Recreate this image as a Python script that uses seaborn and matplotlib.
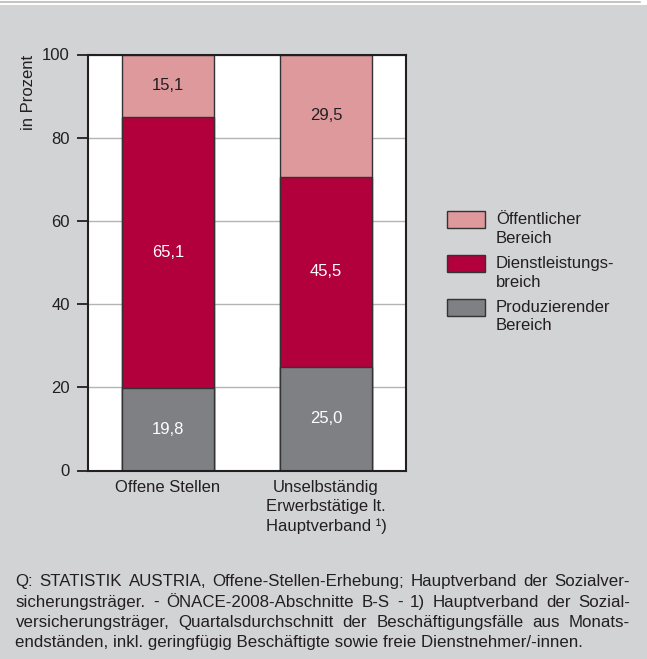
import numpy as np
import pandas as pd
import matplotlib
matplotlib.use("Agg")
import matplotlib.pyplot as plt
import seaborn as sns
from matplotlib.patches import Rectangle
from matplotlib.lines import Line2D

# --- data (Anteile in Prozent)
categories = ["Offene Stellen", "Unselbständig\nErwerbstätige lt.\nHauptverband ¹)"]
produzierend = [19.8, 25.0]
dienstleistung = [65.1, 45.5]
oeffentlich = [15.1, 29.5]
series_names = ["Öffentlicher\nBereich", "Dienstleistungs-\nbreich", "Produzierender\nBereich"]
y_ticks = [0, 20, 40, 60, 80, 100]
footnote_lines = [
    "Q: STATISTIK AUSTRIA, Offene-Stellen-Erhebung; Hauptverband der Sozialver-",
    "sicherungsträger. - ÖNACE-2008-Abschnitte B-S - 1) Hauptverband der Sozial-",
    "versicherungsträger, Quartalsdurchschnitt der Beschäftigungsfälle aus Monats-",
    "endständen, inkl. geringfügig Beschäftigte sowie freie Dienstnehmer/-innen.",
]

col_oef = "#dd999c"
col_dl = "#b1003c"
col_prod = "#7f8084"
bg = "#d2d3d5"
dark = "#231f20"

sns.set_theme(style="white")
plt.rcParams["font.family"] = ["Liberation Sans", "DejaVu Sans"]

W, H = 647, 659
FS = 12


def px(x, y):
    # pixel position (from top-left) -> figure fraction
    return x / W, 1 - y / H


df = pd.DataFrame({
    "cat": categories,
    "prod": produzierend,
    "dl": dienstleistung,
    "oef": oeffentlich,
})
df["cum_prod"] = df["prod"]
df["cum_dl"] = df["prod"] + df["dl"]
df["cum_oef"] = df["cum_dl"] + df["oef"]

fig = plt.figure(figsize=(W / 100, H / 100), dpi=100)
fig.patch.set_facecolor(bg)

# white strip at the very top
fig.add_artist(Rectangle((0, 1 - 5 / H), 1, 5 / H, transform=fig.transFigure,
                         facecolor="white", edgecolor="none"))
fig.add_artist(Line2D([0, 640 / W], [1 - 1.5 / H] * 2, transform=fig.transFigure,
                      color="#c4c4c4", lw=1.5))

l, b = px(88, 470.5)
r, t = px(406, 54.5)
ax = fig.add_axes([l, b, r - l, t - b])
ax.set_facecolor("white")

# stacked bars drawn as cumulative layers (back to front)
bar_kw = dict(width=0.58, edgecolor="#333333", linewidth=1.0, saturation=1)
sns.barplot(data=df, x="cat", y="cum_oef", color=col_oef, ax=ax, **bar_kw)
sns.barplot(data=df, x="cat", y="cum_dl", color=col_dl, ax=ax, **bar_kw)
sns.barplot(data=df, x="cat", y="cum_prod", color=col_prod, ax=ax, **bar_kw)

# value labels in the segment centres
for i, row in df.iterrows():
    segs = [(row["prod"], row["cum_prod"], "white"),
            (row["dl"], row["cum_dl"], "white"),
            (row["oef"], row["cum_oef"], dark)]
    for val, top, c in segs:
        ax.text(i, top - val / 2, f"{val:.1f}".replace(".", ","), ha="center",
                va="center", fontsize=FS, color=c)

ax.set_ylim(0, 100)
ax.set_xlim(-0.505, 1.505)
ax.set_yticks(y_ticks)
ax.set_xlabel("")
ax.set_ylabel("in Prozent", fontsize=FS, color=dark, loc="top")
ax.yaxis.set_label_coords(-0.165, 1.0)
ax.yaxis.grid(True, color="#b4b4b4", lw=1)
ax.set_axisbelow(True)
ax.tick_params(axis="y", left=True, length=8, width=1.3, color=dark,
               labelsize=FS, labelcolor=dark, pad=5)
ax.tick_params(axis="x", bottom=False, length=0, labelsize=FS,
               labelcolor=dark, pad=7)
for lab in ax.get_xticklabels():
    lab.set_linespacing(1.35)
for s in ax.spines.values():
    s.set_visible(True)
    s.set_color(dark)
    s.set_linewidth(1.5)

# legend, drawn by hand so the box sits on the first text line
leg_cols = [col_oef, col_dl, col_prod]
leg_tops = [211.5, 255, 298.5]
for name, c, ty in zip(series_names, leg_cols, leg_tops):
    x0, y0 = px(447, ty + 17)
    fig.add_artist(Rectangle((x0, y0), 38 / W, 17 / H, transform=fig.transFigure,
                             facecolor=c, edgecolor="#333333", lw=1.0))
    fig.text(*px(496, ty + 1), name, fontsize=FS, color=dark, va="top",
             ha="left", linespacing=1.32)

# footnote, justified like the original
renderer = fig.canvas.get_renderer()
fs = 12.2
x_left, x_right = 15.5, 630
baselines = [586, 606.7, 626.7, 647.2]
for k, (line, yb) in enumerate(zip(footnote_lines, baselines)):
    words = line.split(" ")
    if k == len(footnote_lines) - 1:
        fig.text(*px(x_left, yb), line, fontsize=fs, color=dark, va="baseline")
        continue
    widths = []
    for w_ in words:
        tt = fig.text(0, 0, w_, fontsize=fs)
        widths.append(tt.get_window_extent(renderer).width)
        tt.remove()
    gap = (x_right - x_left - sum(widths)) / (len(words) - 1)
    xpos = x_left
    for w_, wd in zip(words, widths):
        fig.text(*px(xpos, yb), w_, fontsize=fs, color=dark, va="baseline")
        xpos += wd + gap

fig.savefig("out.png", dpi=100, facecolor=fig.get_facecolor())
